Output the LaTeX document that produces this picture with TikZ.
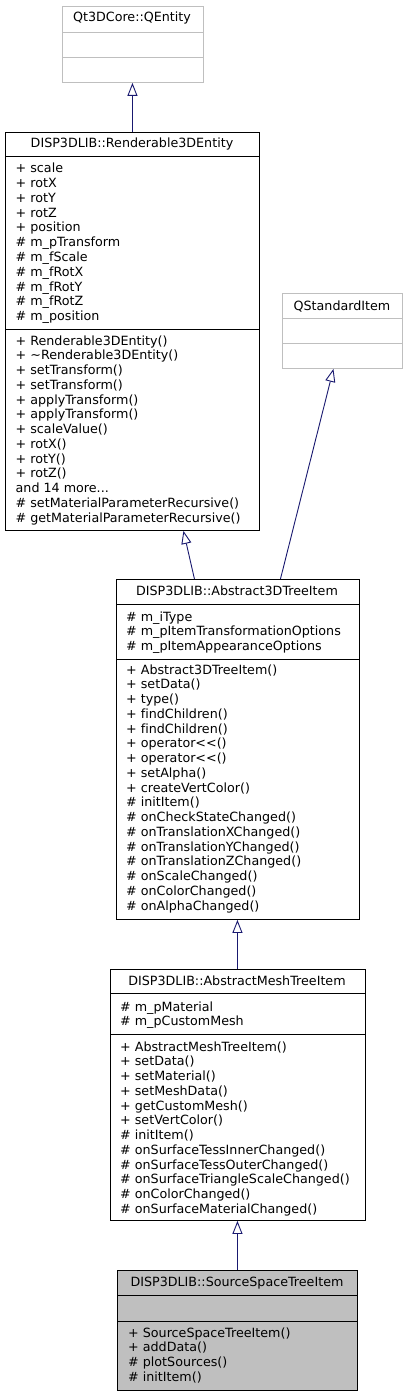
\documentclass[tikz,border=0pt]{standalone}
\usepackage{fontspec}
\setmainfont[Ligatures=NoCommon]{DejaVu Sans}
\usetikzlibrary{arrows.meta}
\definecolor{edgeblue}{RGB}{25,25,112}
\definecolor{qtgray}{RGB}{191,191,191}
\definecolor{selgray}{RGB}{191,191,191}
\tikzset{
  cmp/.style={draw=black, line width=0.9pt, rectangle, inner sep=0pt, anchor=north west},
  qcmp/.style={cmp, draw=qtgray},
  scmp/.style={cmp, fill=selgray},
  mem/.style={inner sep=0pt, anchor=base west, font=\fontsize{12.7}{14.75}\selectfont},
  ttl/.style={inner sep=0pt, anchor=base, font=\fontsize{12.7}{14.75}\selectfont},
  inh/.style={draw=edgeblue, line width=0.9pt, -{Triangle[open, length=13pt, width=10pt, line width=0.9pt]}}
}
\newcommand{\mlines}[4]{%
  \foreach \t [count=\i] in {#4} {\node[mem] (#1\i) at (#2, {#3+(\i-1)*14.75}) {\t};}}
\begin{document}
\begin{tikzpicture}[x=1pt,y=-1pt]
\useasboundingbox[fill=white] (0,0) rectangle (408,1396);
% Qt3DCore::QEntity
\node[qcmp, minimum width=141pt, minimum height=26pt] (qe-t) at (61.5,6) {};
\node[qcmp, minimum width=141pt, minimum height=25pt] (qe-a) at (61.5,32) {};
\node[qcmp, minimum width=141pt, minimum height=25pt] (qe-m) at (61.5,57) {};
\node[ttl] (qe-n) at (132,22) {Qt3DCore::QEntity};
% Renderable3DEntity
\node[cmp, minimum width=254pt, minimum height=24pt] (r-t) at (5,132) {};
\node[cmp, minimum width=254pt, minimum height=173pt] (r-a) at (5,156) {};
\node[cmp, minimum width=254pt, minimum height=201pt] (r-m) at (5,329) {};
\node[ttl] (r-n) at (132,148) {DISP3DLIB::Renderable3DEntity};
\mlines{ra}{15.5}{173}{+ scale,+ rotX,+ rotY,+ rotZ,+ position,\# m\_pTransform,\# m\_fScale,\# m\_fRotX,\# m\_fRotY,\# m\_fRotZ,\# m\_position}
\mlines{rm}{15.5}{345}{+ Renderable3DEntity(),+ \textasciitilde Renderable3DEntity(),+ setTransform(),+ setTransform(),+ applyTransform(),+ applyTransform(),+ scaleValue(),+ rotX(),+ rotY(),+ rotZ(),{and 14 more.{}.{}.},\# setMaterialParameterRecursive(),\# getMaterialParameterRecursive()}
% QStandardItem
\node[qcmp, minimum width=120pt, minimum height=25pt] (qs-t) at (282,293) {};
\node[qcmp, minimum width=120pt, minimum height=25pt] (qs-a) at (282,318) {};
\node[qcmp, minimum width=120pt, minimum height=25pt] (qs-m) at (282,343) {};
\node[ttl] (qs-n) at (342,310) {QStandardItem};
% Abstract3DTreeItem
\node[cmp, minimum width=243pt, minimum height=25pt] (a-t) at (115.5,579) {};
\node[cmp, minimum width=243pt, minimum height=55pt] (a-a) at (115.5,604) {};
\node[cmp, minimum width=243pt, minimum height=260pt] (a-m) at (115.5,659) {};
\node[ttl] (a-n) at (237,595) {DISP3DLIB::Abstract3DTreeItem};
\mlines{aa}{126}{621}{\# m\_iType,\# m\_pItemTransformationOptions,\# m\_pItemAppearanceOptions}
\mlines{am}{126}{674}{+ Abstract3DTreeItem(),+ setData(),+ type(),+ findChildren(),+ findChildren(),+ operator<{}<(),+ operator<{}<(),+ setAlpha(),+ createVertColor(),\# initItem(),\# onCheckStateChanged(),\# onTranslationXChanged(),\# onTranslationYChanged(),\# onTranslationZChanged(),\# onScaleChanged(),\# onColorChanged(),\# onAlphaChanged()}
% AbstractMeshTreeItem
\node[cmp, minimum width=255pt, minimum height=24pt] (m-t) at (109.5,969) {};
\node[cmp, minimum width=255pt, minimum height=41pt] (m-a) at (109.5,993) {};
\node[cmp, minimum width=255pt, minimum height=186pt] (m-m) at (109.5,1034) {};
\node[ttl] (m-n) at (237,985) {DISP3DLIB::AbstractMeshTreeItem};
\mlines{ma}{120}{1011}{\# m\_pMaterial,\# m\_pCustomMesh}
\mlines{mm}{120}{1051}{+ AbstractMeshTreeItem(),+ setData(),+ setMaterial(),+ setMeshData(),+ getCustomMesh(),+ setVertColor(),\# initItem(),\# onSurfaceTessInnerChanged(),\# onSurfaceTessOuterChanged(),\# onSurfaceTriangleScaleChanged(),\# onColorChanged(),\# onSurfaceMaterialChanged()}
% SourceSpaceTreeItem
\node[scmp, minimum width=240pt, minimum height=25pt] (s-t) at (117,1270) {};
\node[scmp, minimum width=240pt, minimum height=26pt] (s-a) at (117,1295) {};
\node[scmp, minimum width=240pt, minimum height=69pt] (s-m) at (117,1321) {};
\node[ttl] (s-n) at (237,1286) {DISP3DLIB::SourceSpaceTreeItem};
\mlines{sm}{128}{1337}{+ SourceSpaceTreeItem(),+ addData(),\# plotSources(),\# initItem()}
% inheritance edges
\draw[inh] (r-t.north) -- (r-t.north |- qe-m.south);
\draw[inh] ([xshift=-43pt]a-t.north) -- ([xshift=51pt]r-m.south);
\draw[inh] ([xshift=43pt]a-t.north) -- ([xshift=-9pt]qs-m.south);
\draw[inh] (m-t.north) -- (m-t.north |- a-m.south);
\draw[inh] (s-t.north) -- (s-t.north |- m-m.south);
\end{tikzpicture}
\end{document}
